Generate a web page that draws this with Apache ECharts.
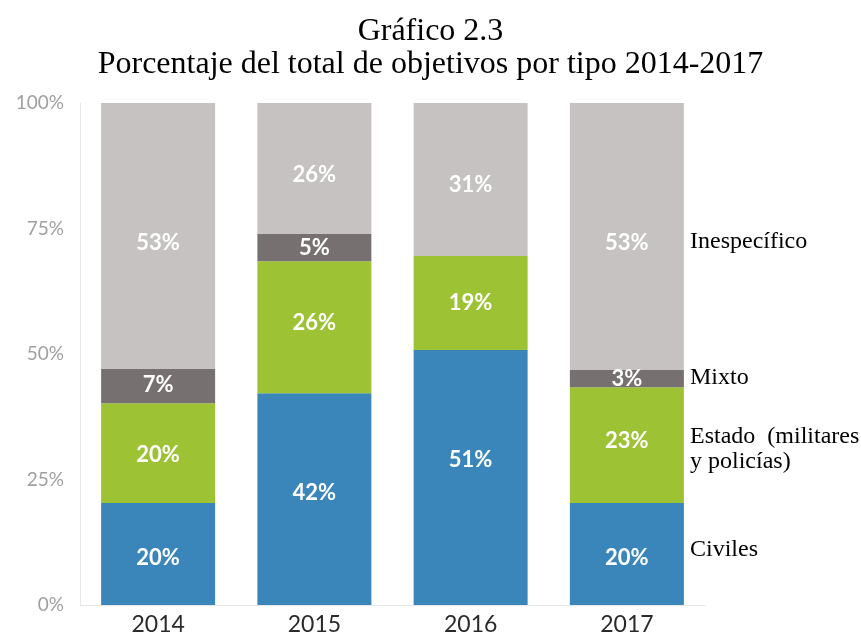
<!DOCTYPE html>
<html><head><meta charset="utf-8">
<script src="https://cdn.jsdelivr.net/npm/echarts@6/dist/echarts.min.js"></script>
<style>html,body{margin:0;padding:0;background:#fff}#c{width:861px;height:641px}</style>
</head><body><div id="c"></div>
<script>
const categories = ['2014', '2015', '2016', '2017'];
const seriesNames = ['Civiles', 'Estado (militares y policías)', 'Mixto', 'Inespecífico'];
const civiles = [20.3, 42.2, 50.8, 20.3];
const estado = [19.9, 26.3, 18.7, 23.1];
const mixto = [6.8, 5.4, 0, 3.4];
const inespecifico = [53.0, 26.1, 30.5, 53.2];
const civilesLabels = ['20%', '42%', '51%', '20%'];
const estadoLabels = ['20%', '26%', '19%', '23%'];
const mixtoLabels = ['7%', '5%', '', '3%'];
const inespecificoLabels = ['53%', '26%', '31%', '53%'];
const yTicks = [0, 25, 50, 75, 100];

// label vertical nudges (px), style only
const labelShift = [
  [4, -6, -18, 4],
  [2, -4, 0, -4],
  [-1, 0, 0, 0],
  [7, 6, 5, 6]
];

const colors = ['#3a86bb', '#9dc334', '#767170', '#c6c2c1'];
const values = [civiles, estado, mixto, inespecifico];
const labels = [civilesLabels, estadoLabels, mixtoLabels, inespecificoLabels];

const chart = echarts.init(document.getElementById('c'));
chart.setOption({
  animation: false,
  title: {
    text: 'Gráfico 2.3\nPorcentaje del total de objetivos por tipo 2014-2017',
    left: 'center', top: 10,
    textStyle: { fontFamily: 'Liberation Serif', fontSize: 32, fontWeight: 'normal', color: '#000', lineHeight: 33 }
  },
  grid: { left: 80, right: 156, top: 103, bottom: 36 },
  xAxis: {
    type: 'category', data: categories,
    axisLine: { lineStyle: { color: '#e6e6e6' } },
    axisTick: { show: false },
    axisLabel: { fontFamily: 'Lato', fontSize: 23, color: '#2a2a2a', margin: 8 }
  },
  yAxis: {
    type: 'value', min: 0, max: 100, interval: 25,
    axisLine: { show: true, lineStyle: { color: '#e6e6e6' } },
    splitLine: { show: false },
    axisLabel: { fontFamily: 'Lato', fontSize: 19, color: '#a0a0a0', margin: 16, formatter: v => yTicks.includes(v) ? v + '%' : '' }
  },
  series: values.map((vals, i) => ({
    name: seriesNames[i], type: 'bar', stack: 'total', barWidth: 114,
    data: vals.map((v, j) => ({ value: v, label: { offset: [0, labelShift[i][j]] } })),
    itemStyle: { color: colors[i] },
    label: {
      show: true, position: 'inside', color: '#fff', fontFamily: 'Lato', fontWeight: 'bold', fontSize: 22,
      formatter: p => labels[i][p.dataIndex]
    }
  })),
  graphic: [
    { type: 'text', x: 690, y: 242, style: { text: 'Inespecífico', font: '24px "Liberation Serif"', fill: '#000', verticalAlign: 'middle' } },
    { type: 'text', x: 690, y: 378, style: { text: 'Mixto', font: '24px "Liberation Serif"', fill: '#000', verticalAlign: 'middle' } },
    { type: 'text', x: 690, y: 449, style: { text: 'Estado  (militares\ny policías)', font: '24px "Liberation Serif"', fill: '#000', lineHeight: 25, verticalAlign: 'middle' } },
    { type: 'text', x: 690, y: 550, style: { text: 'Civiles', font: '24px "Liberation Serif"', fill: '#000', verticalAlign: 'middle' } }
  ]
});
</script></body></html>
